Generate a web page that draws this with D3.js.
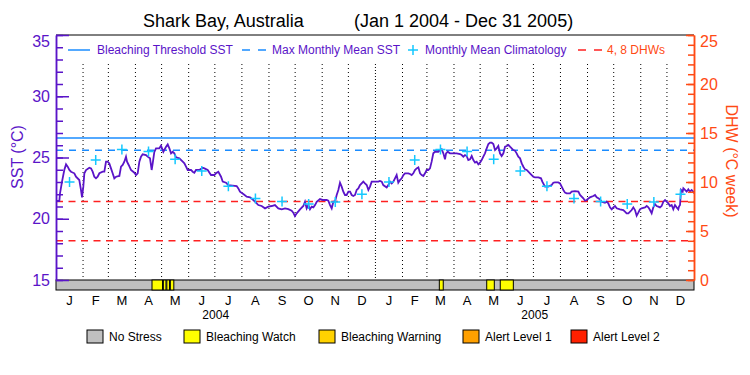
<!DOCTYPE html>
<html>
<head>
<meta charset="utf-8">
<script src="https://cdn.jsdelivr.net/npm/d3@7"></script>
<style>
  body { margin: 0; background: #fff; }
  svg { display: block; font-family: "Liberation Sans", Arial, sans-serif; }
</style>
</head>
<body>
<script>
// ---- data ----
const chartTitle = "Shark Bay, Australia";
const chartPeriod = "(Jan 1 2004 - Dec 31 2005)";
const monthLabels = ["J", "F", "M", "A", "M", "J", "J", "A", "S", "O", "N", "D"];
const years = [2004, 2005];

// monthly mean climatology (deg C), Jan..Dec
const climatology = [23.0, 24.8, 25.65, 25.5, 24.85, 23.9, 22.65, 21.65, 21.4, 21.2, 21.37, 22.0];
const maxMonthlyMean = 25.6;
const bleachingThreshold = 26.6;
const dhwLevels = [4, 8];

// SST trace: [days since Jan 1 2004, SST]
const sstTrace = [
  [0, 21.45], [3.8, 21.45], [4.6, 22.07], [6.9, 23.03], [9.5, 23.98], [11.5, 24.44], [13.4, 24.25],
  [15.3, 23.98], [17.2, 23.84], [21.0, 23.71], [22.9, 23.43], [26.7, 23.16], [28.6, 22.35], [29.8, 21.75],
  [31.3, 22.62], [32.5, 23.71], [34.4, 23.98], [38.2, 24.17], [40.1, 24.11], [42.0, 23.84], [43.9, 23.43],
  [45.8, 23.30], [47.7, 23.43], [49.7, 23.71], [53.5, 23.84], [55.4, 23.84], [57.3, 24.66], [59.2, 24.66],
  [61.1, 24.52], [63.0, 24.11], [64.9, 23.71], [66.8, 23.30], [68.8, 23.43], [72.6, 23.49], [74.5, 24.25],
  [76.4, 24.39], [78.3, 24.66], [80.2, 25.07], [81.4, 24.66], [83.3, 24.39], [85.9, 23.98], [89.8, 23.76],
  [91.7, 23.57], [93.6, 23.71], [95.5, 24.66], [97.4, 25.07], [99.3, 25.26], [103.1, 25.20], [105.0, 25.07],
  [107.7, 24.93], [109.6, 23.98], [110.8, 24.52], [112.7, 25.47], [114.6, 25.75], [118.4, 25.75], [120.3, 25.96],
  [121.5, 25.75], [123.0, 25.47], [126.1, 25.88], [128.0, 26.07], [129.9, 25.75], [131.8, 25.34], [133.7, 25.47],
  [135.6, 25.34], [137.5, 25.01], [141.3, 24.93], [145.2, 24.66], [147.1, 24.52], [149.0, 24.25], [150.9, 23.98],
  [154.7, 23.98], [156.6, 23.84], [158.5, 23.76], [160.4, 23.98], [164.2, 23.98], [168.1, 24.17], [170.0, 24.11],
  [173.8, 23.98], [177.6, 23.57], [181.4, 23.57], [183.3, 23.71], [186.0, 23.84], [189.1, 23.43], [191.0, 23.03],
  [194.8, 22.94], [197.4, 22.75], [207.0, 22.67], [208.9, 22.48], [210.8, 22.21], [214.6, 22.02], [218.5, 21.80],
  [222.3, 21.75], [226.1, 21.53], [228.0, 21.39], [231.8, 21.12], [235.6, 21.04], [239.5, 20.85], [243.3, 20.99],
  [247.1, 21.04], [250.9, 21.12], [254.7, 20.85], [258.6, 20.77], [262.4, 20.85], [266.2, 20.79], [270.0, 20.66],
  [271.9, 20.50], [273.8, 20.22], [275.8, 20.44], [279.6, 20.77], [283.4, 21.04], [285.3, 21.39], [287.2, 20.85],
  [289.1, 21.12], [291.0, 20.77], [293.0, 20.99], [294.9, 20.93], [296.8, 21.12], [298.7, 21.39], [302.5, 21.61],
  [306.3, 21.53], [310.1, 21.53], [312.0, 21.47], [314.0, 21.12], [315.9, 20.85], [317.8, 21.39], [319.7, 21.39],
  [321.6, 21.94], [323.5, 22.35], [325.4, 22.94], [327.3, 22.62], [329.2, 22.21], [331.1, 21.94], [333.0, 21.94],
  [335.0, 22.21], [336.9, 22.21], [338.8, 21.94], [340.7, 21.86], [342.6, 21.94], [344.5, 22.35], [346.4, 22.48],
  [348.3, 22.75], [350.2, 22.89], [352.1, 23.03], [354.0, 22.89], [356.0, 22.75], [357.9, 22.35], [359.8, 22.62],
  [361.7, 23.03], [365.5, 23.03], [369.3, 23.03], [371.2, 23.08], [373.2, 23.03], [375.0, 22.75], [378.9, 22.56],
  [380.8, 22.75], [382.7, 23.03], [384.6, 22.89], [386.5, 23.03], [388.4, 23.30], [390.3, 23.57], [392.2, 22.94],
  [394.1, 23.16], [396.1, 23.30], [398.0, 23.57], [399.9, 23.71], [403.7, 23.71], [405.6, 23.65], [407.5, 23.57],
  [409.4, 23.71], [411.3, 23.98], [413.2, 24.11], [415.2, 24.20], [417.1, 23.71], [419.0, 23.57], [420.9, 23.49],
  [422.8, 23.71], [424.7, 23.98], [426.6, 23.98], [428.5, 24.11], [430.4, 24.66], [432.3, 25.34], [434.3, 25.47],
  [438.1, 25.47], [440.0, 25.61], [441.9, 25.67], [443.8, 25.34], [445.7, 24.85], [446.9, 25.34], [448.8, 25.47],
  [451.4, 25.34], [455.3, 25.34], [459.1, 25.34], [462.9, 25.28], [464.8, 25.20], [466.7, 25.07], [468.6, 25.20],
  [470.5, 25.12], [472.4, 24.79], [474.4, 24.85], [476.3, 25.12], [478.2, 24.79], [480.1, 24.58], [482.0, 24.66],
  [483.9, 24.44], [485.8, 24.58], [487.7, 24.79], [489.6, 25.07], [491.5, 25.34], [493.5, 25.75], [495.4, 26.10],
  [497.3, 26.21], [499.2, 26.21], [501.1, 26.10], [503.0, 25.61], [504.9, 25.75], [506.8, 25.94], [508.7, 25.34],
  [510.6, 25.12], [512.6, 25.34], [514.5, 25.88], [516.4, 25.94], [518.3, 26.02], [520.2, 25.88], [522.1, 25.75],
  [524.0, 25.61], [525.9, 25.56], [527.8, 25.34], [529.7, 25.07], [531.7, 24.93], [533.6, 24.52], [535.5, 24.25],
  [537.4, 24.03], [539.3, 23.98], [541.2, 23.84], [543.1, 23.71], [545.0, 23.57], [546.9, 23.43], [548.8, 23.38],
  [552.7, 23.38], [555.7, 23.30], [557.2, 23.03], [560.3, 22.62], [564.1, 22.62], [567.9, 22.75], [569.8, 22.94],
  [571.7, 22.97], [575.5, 22.97], [577.5, 22.89], [579.4, 22.62], [581.3, 22.35], [583.2, 22.13], [585.1, 22.07],
  [588.9, 22.07], [590.8, 22.21], [594.6, 22.26], [598.5, 22.21], [600.4, 21.94], [604.2, 21.67], [606.1, 21.47],
  [608.0, 21.53], [611.8, 21.75], [615.6, 21.86], [617.6, 21.94], [619.5, 21.75], [621.4, 21.67], [623.3, 21.58],
  [625.2, 21.39], [629.0, 21.31], [630.9, 21.39], [632.8, 21.26], [634.7, 20.93], [636.7, 20.77], [638.6, 20.93],
  [640.5, 21.04], [642.4, 20.85], [646.2, 20.77], [650.0, 20.71], [651.9, 20.58], [653.8, 20.44], [655.8, 20.44],
  [659.6, 20.71], [661.5, 20.93], [663.4, 20.71], [665.3, 20.25], [667.2, 20.50], [669.1, 20.77], [671.0, 20.85],
  [674.9, 20.93], [676.8, 21.04], [678.7, 20.93], [680.6, 20.71], [682.5, 20.44], [684.4, 20.93], [686.3, 21.20],
  [688.2, 21.04], [690.1, 20.99], [692.0, 20.93], [693.9, 21.04], [695.9, 21.39], [697.8, 21.53], [699.7, 21.39],
  [701.6, 21.26], [703.5, 21.04], [705.4, 21.12], [707.3, 20.77], [709.2, 21.12], [711.1, 20.93], [713.0, 20.77],
  [713.8, 20.99], [715.0, 21.12], [716.1, 22.35], [718.0, 22.21], [718.8, 22.48], [720.7, 22.35], [722.6, 22.21],
  [724.5, 22.40], [726.4, 22.21], [728.3, 22.35], [730.2, 22.21], [731.0, 22.07]
];

// stress level legend and the Bleaching Watch periods (days since Jan 1 2004)
const stressNames = ["No Stress", "Bleaching Watch", "Bleaching Warning", "Alert Level 1", "Alert Level 2"];
const watchPeriods = [[110, 122], [123, 126], [127, 130], [131, 135], [439.2, 443.7], [493.5, 502.2], [509, 524]];

// ---- styles ----
const purple = "#5a14c8", orange = "#ff4a14", blue = "#1a8cff", cyan = "#14c8ff", red = "#ff2020";
const stressColors = ["#c0c0c0", "#ffff00", "#ffd200", "#ffa000", "#ff2000"];

const W = 750, H = 375;
const X0 = 56, X1 = 694, Y0 = 35, Y1 = 280;

const svg = d3.select("body").append("svg").attr("width", W).attr("height", H);

const t0 = Date.UTC(2004, 0, 1);
const dayToDate = (d) => new Date(t0 + d * 864e5);
const x = d3.scaleUtc().domain([new Date(t0), new Date(Date.UTC(2006, 0, 1))]).range([X0, X1]);
const ySST = d3.scaleLinear().domain([15, 35]).range([Y1, Y0]);
const yDHW = d3.scaleLinear().domain([0, 25]).range([Y1, Y0]);

// month middles for both years
const months = [];
years.forEach((yr) =>
  d3.range(12).forEach((m) => {
    const a = Date.UTC(yr, m, 1), b = Date.UTC(yr, m + 1, 1);
    months.push({ yr, m, start: new Date(a), mid: new Date((a + b) / 2) });
  })
);

// title
svg.append("text").attr("x", 143).attr("y", 27).attr("font-size", 18).text(chartTitle);
svg.append("text").attr("x", 354).attr("y", 27).attr("font-size", 18).text(chartPeriod);

// dotted month lines
svg.append("g").selectAll("line")
  .data(months.filter((d) => !(d.yr === 2004 && d.m === 0)))
  .join("line")
  .attr("x1", (d) => x(d.start)).attr("x2", (d) => x(d.start))
  .attr("y1", 64).attr("y2", Y1)
  .attr("stroke", "#000").attr("stroke-width", 1)
  .attr("stroke-dasharray", (d) => (d.m === 0 ? "1,2" : "1,3"));

// threshold / MMM / DHW reference lines
svg.append("line").attr("x1", X0).attr("x2", X1)
  .attr("y1", ySST(bleachingThreshold)).attr("y2", ySST(bleachingThreshold))
  .attr("stroke", blue).attr("stroke-width", 1.5);
svg.append("line").attr("x1", X0).attr("x2", X1)
  .attr("y1", ySST(maxMonthlyMean)).attr("y2", ySST(maxMonthlyMean))
  .attr("stroke", blue).attr("stroke-width", 1.5).attr("stroke-dasharray", "7,6");
svg.append("g").selectAll("line").data(dhwLevels).join("line")
  .attr("x1", X0).attr("x2", X1)
  .attr("y1", (d) => yDHW(d)).attr("y2", (d) => yDHW(d))
  .attr("stroke", red).attr("stroke-width", 1.5).attr("stroke-dasharray", "7,5.5");

// SST line
const line = d3.line().x((d) => x(dayToDate(d[0]))).y((d) => ySST(d[1]));
svg.append("path").datum(sstTrace).attr("d", line)
  .attr("fill", "none").attr("stroke", purple).attr("stroke-width", 1.8)
  .attr("stroke-linejoin", "miter");

// climatology crosses
svg.append("g").selectAll("path").data(months).join("path")
  .attr("transform", (d) => `translate(${x(d.mid)},${ySST(climatology[d.m])})`)
  .attr("d", "M-5,0H5M0,-5V5")
  .attr("stroke", cyan).attr("stroke-width", 1.5);

// stress bar
svg.append("rect").attr("x", X0).attr("y", Y1).attr("width", X1 - X0).attr("height", 10)
  .attr("fill", stressColors[0]).attr("stroke", "#000");
svg.append("g").selectAll("rect").data(watchPeriods).join("rect")
  .attr("x", (d) => x(dayToDate(d[0])))
  .attr("width", (d) => x(dayToDate(d[1])) - x(dayToDate(d[0])))
  .attr("y", Y1).attr("height", 10)
  .attr("fill", stressColors[1]).attr("stroke", "#000");

// frame top
svg.append("line").attr("x1", X0).attr("x2", X1).attr("y1", Y0).attr("y2", Y0).attr("stroke", "#000");

// left axis (SST)
const leftMinor = svg.append("g").attr("transform", `translate(${X0},0)`)
  .call(d3.axisLeft(ySST).tickValues(d3.range(15, 36, 1)).tickSize(-7).tickSizeOuter(0).tickFormat(""));
const leftMajor = svg.append("g").attr("transform", `translate(${X0},0)`)
  .call(d3.axisLeft(ySST).tickValues(d3.range(15, 36, 5)).tickSize(-13).tickSizeOuter(0).tickPadding(6));
[leftMinor, leftMajor].forEach((g) => {
  g.selectAll("path,line").attr("stroke", purple).attr("stroke-width", 1.5);
  g.selectAll("text").attr("fill", purple).attr("font-size", 16).attr("font-family", null);
});
leftMajor.selectAll(".tick").filter((d) => d === 35).select("text").attr("dy", "0.7em");

// right axis (DHW)
const rightMinor = svg.append("g").attr("transform", `translate(${X1},0)`)
  .call(d3.axisRight(yDHW).tickValues(d3.range(0, 26, 1)).tickSize(-6).tickSizeOuter(0).tickFormat(""));
const rightMajor = svg.append("g").attr("transform", `translate(${X1},0)`)
  .call(d3.axisRight(yDHW).tickValues(d3.range(0, 26, 5)).tickSize(-8).tickSizeOuter(0).tickPadding(6));
[rightMinor, rightMajor].forEach((g) => {
  g.selectAll("path,line").attr("stroke", orange).attr("stroke-width", 1.5);
  g.selectAll("text").attr("fill", orange).attr("font-size", 16).attr("font-family", null);
});
rightMajor.selectAll(".tick").filter((d) => d === 25).select("text").attr("dy", "0.7em");

// axis titles
svg.append("text").attr("transform", "translate(23,157) rotate(-90)")
  .attr("text-anchor", "middle").attr("font-size", 16).attr("fill", purple).text("SST (°C)");
svg.append("text").attr("transform", "translate(726,161) rotate(90)")
  .attr("text-anchor", "middle").attr("font-size", 16).attr("fill", orange).text("DHW (°C week)");

// month and year labels
svg.append("g").selectAll("text").data(months).join("text")
  .attr("x", (d) => x(d.mid)).attr("y", 305)
  .attr("text-anchor", "middle").attr("font-size", 13).text((d) => monthLabels[d.m]);
svg.append("g").selectAll("text").data(years).join("text")
  .attr("x", (d) => x(new Date((Date.UTC(d, 0, 1) + Date.UTC(d + 1, 0, 1)) / 2))).attr("y", 319)
  .attr("text-anchor", "middle").attr("font-size", 12).text((d) => d);

// top legend
const lg = svg.append("g").attr("font-size", 12);
lg.append("line").attr("x1", 68).attr("x2", 90).attr("y1", 50).attr("y2", 50)
  .attr("stroke", blue).attr("stroke-width", 1.5);
lg.append("text").attr("x", 97).attr("y", 54).attr("fill", purple).text("Bleaching Threshold SST");
lg.append("line").attr("x1", 242).attr("x2", 266).attr("y1", 50).attr("y2", 50)
  .attr("stroke", blue).attr("stroke-width", 1.5).attr("stroke-dasharray", "8,8");
lg.append("text").attr("x", 272).attr("y", 54).attr("fill", purple).text("Max Monthly Mean SST");
lg.append("path").attr("d", "M408,50H418M413,45V55").attr("stroke", cyan).attr("stroke-width", 1.5);
lg.append("text").attr("x", 425).attr("y", 54).attr("fill", purple).text("Monthly Mean Climatology");
lg.append("line").attr("x1", 578).attr("x2", 602).attr("y1", 50).attr("y2", 50)
  .attr("stroke", red).attr("stroke-width", 1.5).attr("stroke-dasharray", "8,8");
lg.append("text").attr("x", 607).attr("y", 54).attr("fill", orange).text("4, 8 DHWs");

// bottom stress legend
const boxX = [87, 184, 319, 463, 571];
const sl = svg.append("g").attr("font-size", 12);
sl.selectAll("rect").data(stressNames).join("rect")
  .attr("x", (d, i) => boxX[i]).attr("y", 330).attr("width", 16).attr("height", 13)
  .attr("fill", (d, i) => stressColors[i]).attr("stroke", "#000");
sl.selectAll("text").data(stressNames).join("text")
  .attr("x", (d, i) => boxX[i] + 22).attr("y", 341).text((d) => d);
</script>
</body>
</html>
